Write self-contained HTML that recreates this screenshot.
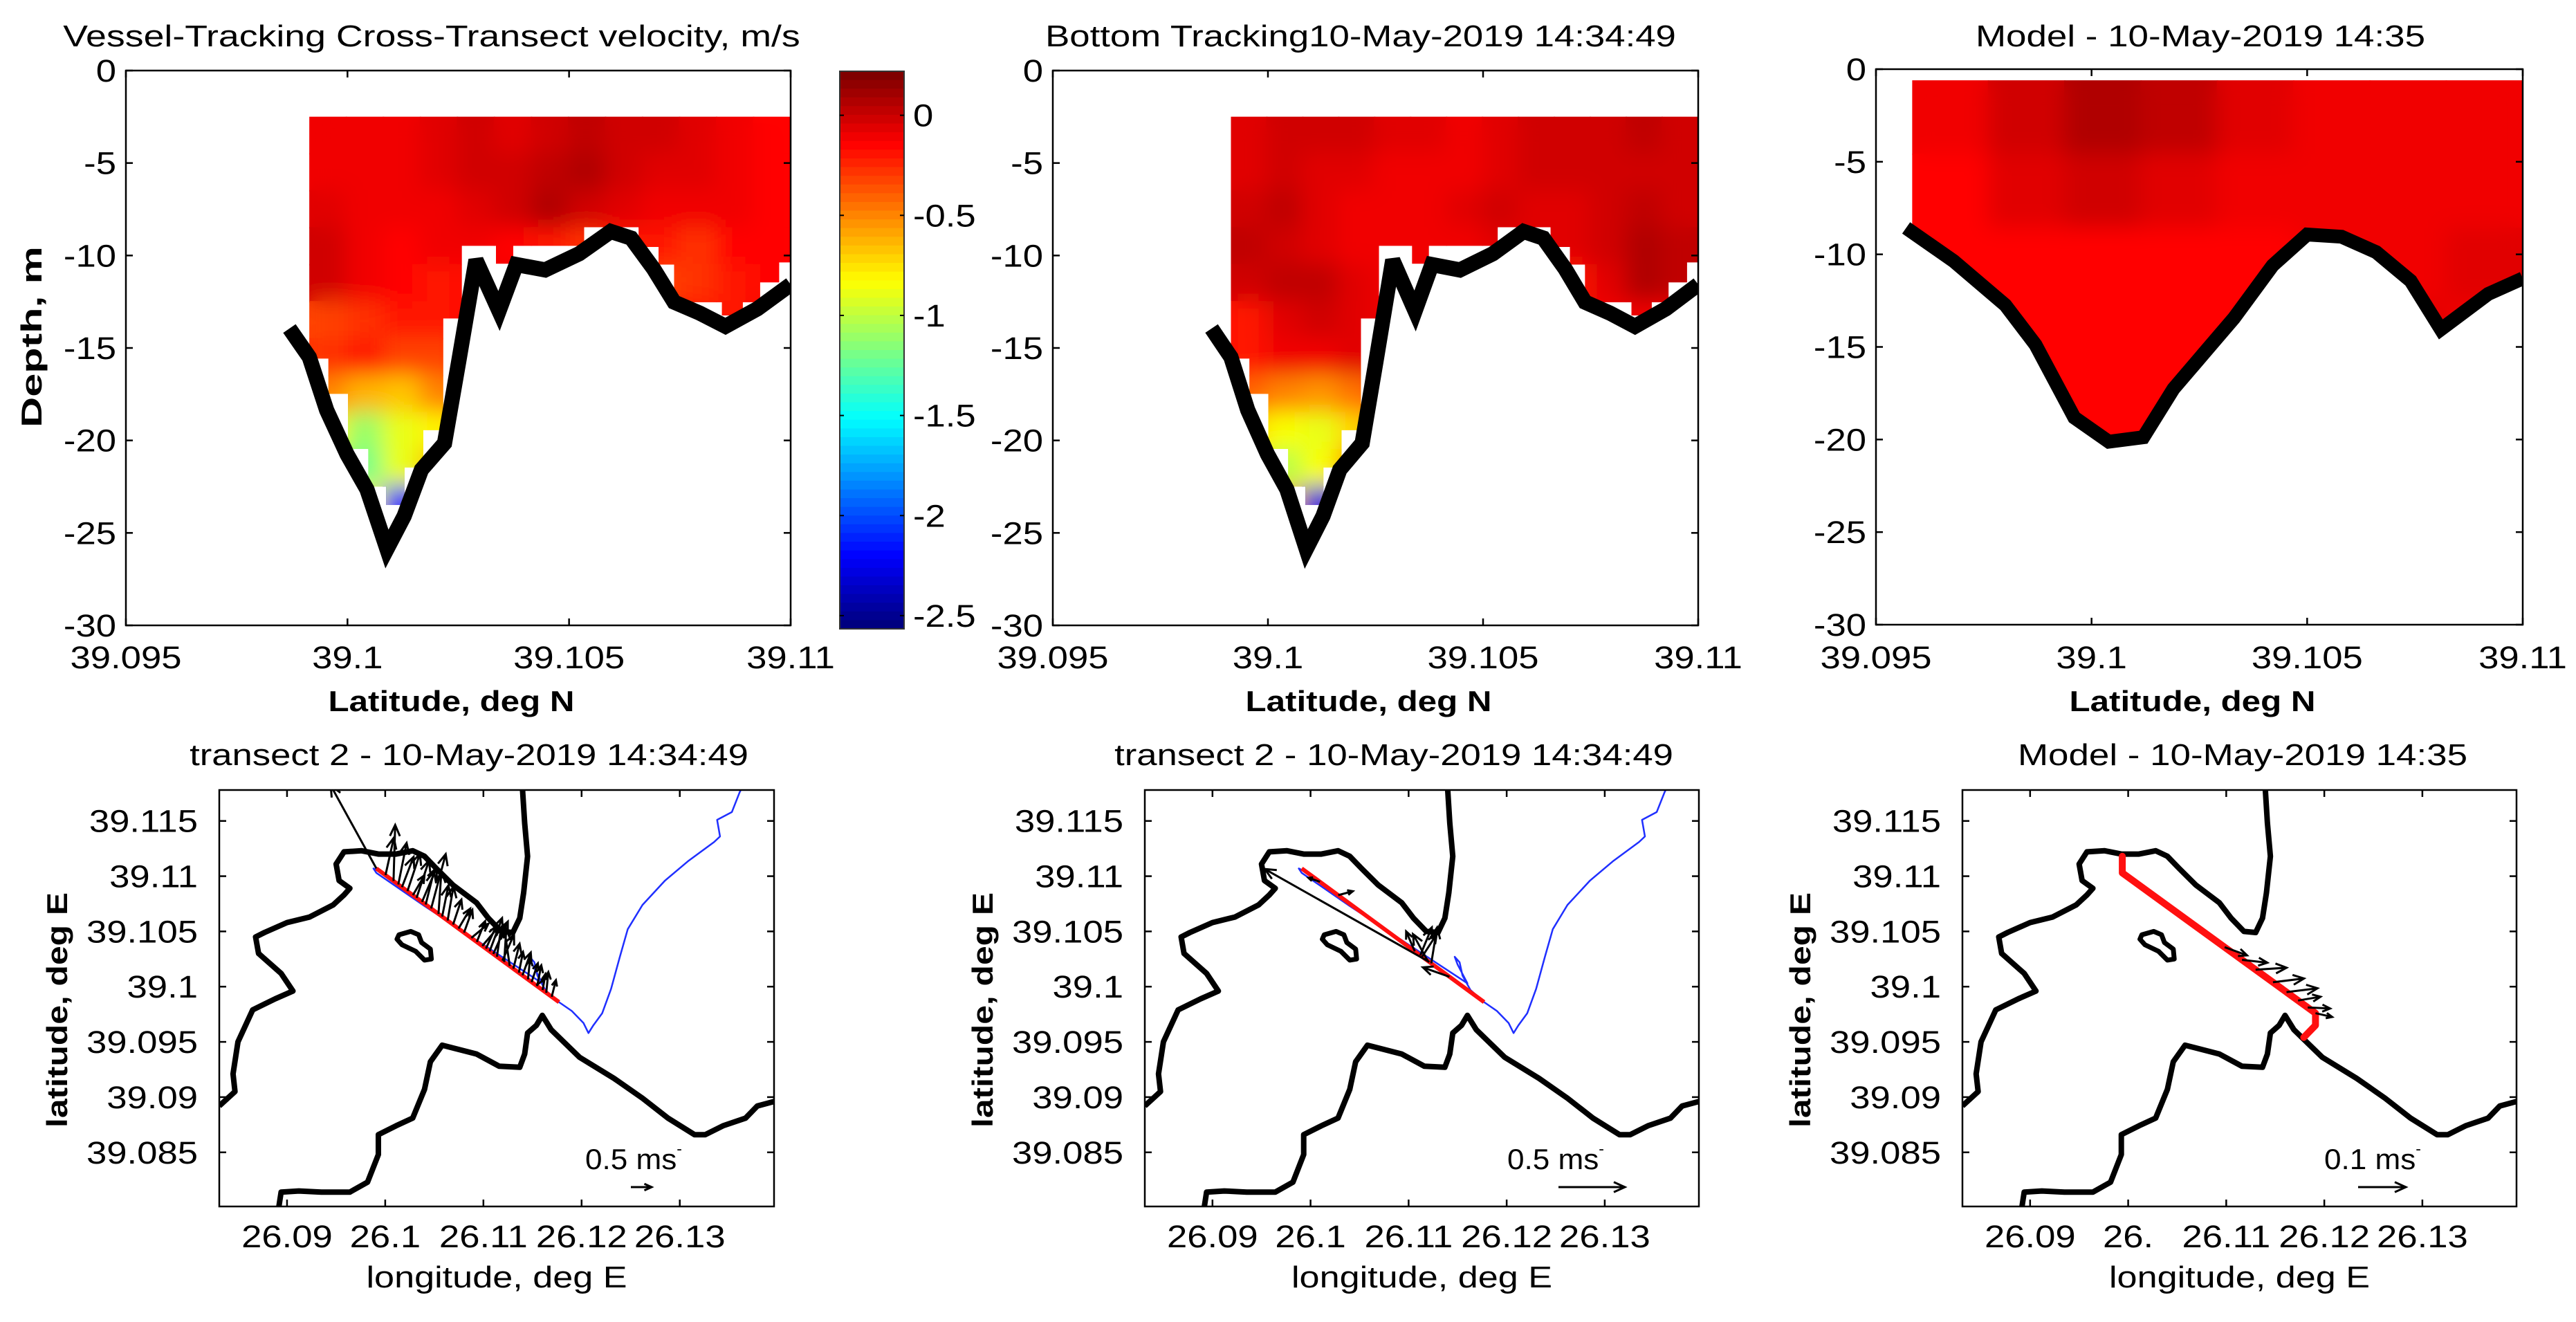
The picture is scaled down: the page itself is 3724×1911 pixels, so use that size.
<!DOCTYPE html>
<html><head><meta charset="utf-8"><title>Cross-transect velocity</title>
<style>
html,body{margin:0;padding:0;background:#fff;}
svg{display:block;font-family:"Liberation Sans",Arial,sans-serif;}
</style></head>
<body>
<svg id="fig" xmlns="http://www.w3.org/2000/svg" width="3724" height="1911" viewBox="0 0 3724 1911"></svg>
<script>
// ---------------- DATA ----------------
const CMIN = -2.566, CMAX = 0.22;
const cbarTicks = [0, -0.5, -1, -1.5, -2, -2.5];
const cbarTickLabels = ["0", "-0.5", "-1", "-1.5", "-2", "-2.5"];

const depthTicks = [0, -5, -10, -15, -20, -25, -30];
const depthTickLabels = ["0", "-5", "-10", "-15", "-20", "-25", "-30"];
const latTicks = [39.095, 39.1, 39.105, 39.11];
const latTickLabels = ["39.095", "39.1", "39.105", "39.11"];

const bathyLat = [39.09869,39.09914,39.09953,39.09999,39.10044,39.10089,39.10128,39.10167,39.10219,39.10251,39.10290,39.10342,39.10381,39.10446,39.10523,39.10594,39.10640,39.10691,39.10737,39.10795,39.10853,39.10925,39.11000];
const bathyDepth = [-13.95,-15.50,-18.36,-20.75,-22.65,-25.87,-24.09,-21.58,-20.15,-15.74,-10.25,-13.00,-10.49,-10.78,-9.90,-8.70,-9.06,-10.73,-12.52,-13.12,-13.83,-12.88,-11.57];

const covLat = [39.09914,39.1100,39.1100,39.10974,39.10974,39.10931,39.10931,39.10892,39.10892,39.10845,39.10845,39.10737,39.10737,39.10702,39.10702,39.10657,39.10657,39.10534,39.10534,39.10374,39.10374,39.10335,39.10335,39.10258,39.10258,39.10216,39.10216,39.10171,39.10171,39.10129,39.10129,39.10087,39.10087,39.10047,39.10047,39.10001,39.10001,39.09957,39.09957,39.09914];
const covDepth = [-2.5,-2.5,-10.37,-10.37,-11.45,-11.45,-12.52,-12.52,-13.24,-13.24,-12.52,-12.52,-10.49,-10.49,-9.54,-9.54,-8.47,-8.47,-9.47,-9.47,-10.44,-10.44,-9.47,-9.47,-13.40,-13.40,-19.44,-19.44,-21.46,-21.46,-23.49,-23.49,-22.49,-22.49,-20.46,-20.46,-17.48,-17.48,-15.57,-15.57];

const vtGridLat0 = 39.09914, vtGridLat1 = 39.1100, vtGridDepth0 = -2.5, vtGridDz = 2;
const vesselVel = [
 [-0.1,-0.1,-0.1,-0.05,0.0,-0.05,0.0,0.05,0.0,0.0,-0.05,-0.1,-0.15],
 [-0.1,-0.1,-0.1,-0.05,0.0,0.0,0.05,0.08,0.0,-0.05,-0.05,-0.1,-0.15],
 [-0.05,-0.1,-0.1,-0.1,-0.05,0.0,0.1,0.0,-0.05,-0.1,-0.1,-0.1,-0.15],
 [0.02,-0.1,-0.15,-0.1,-0.1,-0.15,-0.2,-0.25,-0.2,-0.2,-0.25,-0.15,-0.15],
 [0.0,-0.1,-0.15,-0.2,-0.15,-0.1,-0.1,-0.1,-0.2,-0.3,-0.25,-0.2,-0.15],
 [-0.3,-0.25,-0.2,-0.2,-0.15,-0.1,-0.1,-0.1,-0.1,-0.1,-0.2,-0.2,-0.1],
 [-0.25,-0.2,-0.3,-0.3,-0.2,-0.1,-0.1,-0.1,-0.1,-0.1,-0.1,-0.1,-0.1],
 [-0.5,-0.6,-0.65,-0.5,-0.4,-0.1,-0.1,-0.1,-0.1,-0.1,-0.1,-0.1,-0.1],
 [-0.8,-1.1,-0.9,-0.8,-0.6,-0.1,-0.1,-0.1,-0.1,-0.1,-0.1,-0.1,-0.1],
 [-1.0,-1.2,-0.9,-0.6,-0.5,-0.1,-0.1,-0.1,-0.1,-0.1,-0.1,-0.1,-0.1],
 [-1.4,-0.8,-2.2,-0.6,-0.5,-0.1,-0.1,-0.1,-0.1,-0.1,-0.1,-0.1,-0.1]
];
const bottomVel = [
 [-0.05,0.0,0.0,0.0,-0.05,-0.05,-0.1,-0.05,0.0,0.0,0.0,0.05,0.0],
 [-0.05,0.0,-0.05,-0.05,-0.1,-0.1,-0.1,-0.05,0.0,0.0,0.0,0.0,0.0],
 [0.0,0.05,-0.05,-0.1,-0.1,-0.1,-0.05,0.0,-0.05,-0.05,0.0,0.05,0.0],
 [0.05,0.0,-0.05,-0.1,-0.1,-0.1,-0.1,-0.05,-0.05,-0.05,0.0,0.1,0.05],
 [0.0,0.05,0.05,-0.05,-0.1,-0.1,-0.1,-0.1,-0.1,-0.2,-0.05,0.1,0.05],
 [-0.2,-0.05,0.0,-0.05,-0.1,-0.1,-0.1,-0.1,-0.1,-0.1,-0.1,-0.1,-0.1],
 [-0.2,-0.1,-0.1,-0.05,-0.1,-0.1,-0.1,-0.1,-0.1,-0.1,-0.1,-0.1,-0.1],
 [-0.4,-0.5,-0.55,-0.45,-0.2,-0.1,-0.1,-0.1,-0.1,-0.1,-0.1,-0.1,-0.1],
 [-0.7,-0.85,-0.9,-0.7,-0.4,-0.1,-0.1,-0.1,-0.1,-0.1,-0.1,-0.1,-0.1],
 [-0.8,-1.0,-0.85,-0.5,-0.4,-0.1,-0.1,-0.1,-0.1,-0.1,-0.1,-0.1,-0.1],
 [-1.0,-0.6,-2.3,-0.5,-0.4,-0.1,-0.1,-0.1,-0.1,-0.1,-0.1,-0.1,-0.1]
];

const modelBathyLat = [39.0957,39.0968,39.0980,39.0987,39.0996,39.1004,39.1012,39.1019,39.1033,39.1042,39.1050,39.1058,39.1066,39.1074,39.1081,39.1092,39.1100];
const modelBathyDepth = [-8.57,-10.36,-12.74,-14.88,-18.81,-20.12,-19.88,-17.26,-13.45,-10.6,-8.93,-9.05,-9.88,-11.43,-14.05,-12.14,-11.3];
const modelTopDepth = -0.6, modelLat0 = 39.09584, modelLat1 = 39.1100, modelDz = 4;
const modelVel = [
 [-0.1,0.0,0.1,0.05,-0.05,-0.1,-0.1,-0.1],
 [-0.12,-0.05,0.0,-0.05,-0.1,-0.1,-0.1,-0.1],
 [-0.12,-0.12,-0.15,-0.12,-0.12,-0.1,-0.1,-0.05],
 [-0.12,-0.15,-0.15,-0.12,-0.12,-0.12,-0.05,-0.08],
 [-0.12,-0.12,-0.12,-0.12,-0.12,-0.12,-0.12,-0.12]
];

const lonTicks = [26.09, 26.10, 26.11, 26.12, 26.13];
const lonTickLabels = ["26.09", "26.1", "26.11", "26.12", "26.13"];
const lonTickLabelsModel = ["26.09", "26.", "26.11", "26.12", "26.13"];
const mapLatTicks = [39.085, 39.09, 39.095, 39.1, 39.105, 39.11, 39.115];
const mapLatTickLabels = ["39.085", "39.09", "39.095", "39.1", "39.105", "39.11", "39.115"];

const coastALon = [26.0831,26.0847,26.0845,26.0850,26.0865,26.0888,26.0906,26.0894,26.0871,26.0868,26.0877,26.0900,26.0923,26.0947,26.0958,26.0964,26.0953,26.0950,26.0958,26.0976,26.0993,26.1011,26.1028,26.1040,26.1052,26.1069,26.1093,26.1105,26.1118,26.1130,26.1137,26.1141,26.1145,26.1142,26.1139];
const coastALat = [39.0892,39.0905,39.0921,39.0950,39.0979,39.0989,39.0996,39.1012,39.1030,39.1045,39.1049,39.1058,39.1063,39.1074,39.1083,39.1089,39.1096,39.1111,39.1122,39.1123,39.1120,39.1120,39.1123,39.1118,39.1107,39.1092,39.1076,39.1062,39.1050,39.1049,39.1062,39.1085,39.1118,39.1148,39.1190];
const coastBLon = [26.0891,26.0894,26.0912,26.0935,26.0964,26.0982,26.0993,26.0993,26.1011,26.1028,26.1040,26.1046,26.1058,26.1093,26.1116,26.1137,26.1142,26.1145,26.1154,26.1160,26.1169,26.1198,26.1233,26.1262,26.1288,26.1315,26.1326,26.1344,26.1367,26.1379,26.1400];
const coastBLat = [39.0797,39.0814,39.0815,39.0814,39.0814,39.0823,39.0848,39.0866,39.0874,39.0881,39.0907,39.0932,39.0947,39.0939,39.0928,39.0927,39.0939,39.0958,39.0965,39.0974,39.0961,39.0936,39.0917,39.0899,39.0881,39.0866,39.0866,39.0874,39.0881,39.0892,39.0897];
const islandLon = [26.1014,26.1026,26.1034,26.1037,26.1046,26.1047,26.1040,26.1031,26.1017,26.1012];
const islandLat = [39.1047,39.1050,39.1047,39.1040,39.1034,39.1025,39.1024,39.1032,39.1038,39.1043];
const trackLon = [26.1367,26.1361,26.1353,26.1338,26.1341,26.1335,26.1309,26.1285,26.1262,26.1247,26.1239,26.1230,26.1221,26.1212,26.1207,26.1202,26.1190,26.1177,26.1163,26.1155,26.1152,26.1147,26.1150,26.1160,26.1100,26.1040,26.0991,26.0988,26.0995];
const trackLat = [39.1187,39.1176,39.1158,39.1151,39.1136,39.1131,39.1114,39.1096,39.1074,39.1052,39.1027,39.0998,39.0976,39.0965,39.0958,39.0967,39.0978,39.0986,39.0997,39.1010,39.1022,39.1027,39.1020,39.1003,39.1038,39.1073,39.1103,39.1107,39.1104];
const transectLon = [26.0991, 26.1177];
const transectLat = [39.1107, 39.0986];
const modelTransectLon = [26.0994, 26.0994, 26.1191, 26.1191, 26.1179];
const modelTransectLat = [39.1118, 39.1103, 39.0976, 39.0965, 39.0954];

const vtArrowT = [0,0.05,0.094,0.12,0.14,0.17,0.2,0.22,0.25,0.27,0.3,0.34,0.36,0.39,0.42,0.45,0.48,0.52,0.55,0.58,0.6,0.62,0.64,0.66,0.69,0.7,0.73,0.75,0.78,0.8,0.83,0.85,0.875,0.88,0.91,0.93,0.96];
const vtArrowU = [-1.1,0.2,0.04,0.2,0.28,0.3,0.28,0.3,0.35,0.2,0.35,0.07,0.15,0.14,0.2,0.28,0.2,0.41,0.2,0.41,0.25,0.3,0.35,0.1,0.28,0.05,-0.14,0.15,0.1,0.2,0.05,0.15,0.21,0.1,0.07,0.05,0.1];
const vtArrowV = [2.0,0.9,1.35,1.0,0.73,0.9,0.48,0.9,0.82,0.8,1.31,1.02,0.75,0.82,0.6,0.48,0.55,0.34,0.5,0.48,0.55,0.8,0.78,0.7,0.63,0.8,0.97,0.6,0.5,0.55,0.5,0.45,0.15,0.5,0.39,0.5,0.4];
const btArrowT = [0.1,0.2,0.62,0.65,0.66,0.69,0.7,0.71,0.81];
const btArrowU = [-0.087,0.11,-0.065,0.087,0.11,-0.11,-1.24,0.044,-0.2];
const btArrowV = [0.03,0.03,0.15,0.21,0.17,0.2,0.70,0.27,0.07];
const mdArrowT = [0.53,0.62,0.69,0.78,0.85,0.91,0.96,1.0];
const mdArrowU = [0.047,0.053,0.065,0.065,0.065,0.047,0.047,0.035];
const mdArrowV = [-0.017,-0.006,0.004,0.008,0.008,0.008,-0.002,-0.008];
const refSpeed = [0.5, 0.5, 0.1];
const refLabels = ["0.5 ms", "0.5 ms", "0.1 ms"];

// ---------------- RENDER ----------------
const NS = "http://www.w3.org/2000/svg";
const svg = document.getElementById("fig");
function el(tag, attrs, parent) {
  const e = document.createElementNS(NS, tag);
  for (const k in attrs) e.setAttribute(k, attrs[k]);
  (parent || svg).appendChild(e);
  return e;
}
function txt(x, y, s, size, anchor, parent, opts) {
  opts = opts || {};
  const t = el("text", {transform: "translate(" + x + "," + y + ")" + (opts.rot ? " rotate(" + opts.rot + ")" : "") + " scale(" + (opts.sx || 1.17) + ",1)",
    "font-size": size, "text-anchor": anchor, fill: "#000", "font-weight": opts.bold ? "bold" : "normal"}, parent);
  t.textContent = s;
  if (opts.width) {
    const len = t.getComputedTextLength();
    if (len > 0) t.setAttribute("transform", "translate(" + x + "," + y + ")" + (opts.rot ? " rotate(" + opts.rot + ")" : "") + " scale(" + (opts.width / len).toFixed(3) + ",1)");
  }
  return t;
}
function clamp(v) { return Math.max(0, Math.min(1, v)); }
function jet(v) {
  let f = (v - CMIN) / (CMAX - CMIN);
  f = Math.round(clamp(f) * 63) / 63;
  const r = clamp(1.5 - Math.abs(4 * f - 3)), g = clamp(1.5 - Math.abs(4 * f - 2)), b = clamp(1.5 - Math.abs(4 * f - 1));
  return "rgb(" + Math.round(r * 255) + "," + Math.round(g * 255) + "," + Math.round(b * 255) + ")";
}

const defs = el("defs", {});
const blur = el("filter", {id: "blur", x: "-10%", y: "-10%", width: "120%", height: "120%"}, defs);
el("feGaussianBlur", {stdDeviation: "16"}, blur);
let clipN = 0;
function clipRect(x, y, w, h) {
  const id = "c" + (clipN++);
  const cp = el("clipPath", {id: id}, defs);
  el("rect", {x: x, y: y, width: w, height: h}, cp);
  return id;
}
function clipPoly(pts) {
  const id = "c" + (clipN++);
  const cp = el("clipPath", {id: id}, defs);
  el("polygon", {points: pts.map(p => p[0].toFixed(1) + "," + p[1].toFixed(1)).join(" ")}, cp);
  return id;
}

const sections = [
  {x0: 182, x1: 1143, y0: 102, y1: 904, title: "Vessel-Tracking Cross-Transect velocity, m/s", tx: 624, tw: 1066, name: "vessel-tracking-section", grid: vesselVel, model: false},
  {x0: 1522, x1: 2455, y0: 102, y1: 904, title: "Bottom Tracking10-May-2019 14:34:49", tx: 1967, tw: 912, name: "bottom-tracking-section", grid: bottomVel, model: false},
  {x0: 2712, x1: 3647, y0: 100, y1: 903, title: "Model - 10-May-2019 14:35", tx: 3181, tw: 650, name: "model-section", grid: modelVel, model: true}
];

sections.forEach((P, pi) => {
  const g = el("g", {});
  
  
  const X = lat => P.x0 + (lat - 39.095) / 0.015 * (P.x1 - P.x0);
  const Y = d => P.y0 + (0 - d) / 30 * (P.y1 - P.y0);

  let poly, lat0, lat1, d0, dz;
  if (!P.model) {
    poly = covLat.map((la, i) => [X(la), Y(covDepth[i])]);
    lat0 = vtGridLat0; lat1 = vtGridLat1; d0 = vtGridDepth0; dz = vtGridDz;
  } else {
    poly = [[X(modelLat0), Y(modelTopDepth)], [X(modelLat1), Y(modelTopDepth)]];
    for (let i = modelBathyLat.length - 1; i >= 0; i--) poly.push([X(modelBathyLat[i]), Y(modelBathyDepth[i])]);
    poly.push([X(modelLat0), Y(modelBathyDepth[0])]);
    lat0 = modelLat0; lat1 = modelLat1; d0 = modelTopDepth; dz = modelDz;
  }
  const cid = clipPoly(poly);
  const field = el("g", {"clip-path": "url(#" + cid + ")"}, g);
  
  
  const grid = P.grid, nc = grid[0].length, dlat = (lat1 - lat0) / nc;
  const layers = [el("g", {}, field), el("g", {filter: "url(#blur)"}, field)];
  layers.forEach(L => {
    grid.forEach((row, r) => row.forEach((v, c) => {
      const xa = X(lat0 + c * dlat), xb = X(lat0 + (c + 1) * dlat);
      const ya = Y(d0 - r * dz), yb = Y(d0 - (r + 1) * dz);
      const rc = el("rect", {x: xa - 1, y: ya - 1, width: xb - xa + 2, height: yb - ya + 2, fill: jet(v)}, L);
      
      
    }));
  });

  const bl = P.model ? modelBathyLat : bathyLat, bd = P.model ? modelBathyDepth : bathyDepth;
  const bclip = clipRect(P.x0, P.y0 - 20, P.x1 - P.x0, P.y1 - P.y0 + 40);
  const bp = el("polyline", {points: bl.map((la, i) => X(la).toFixed(1) + "," + Y(bd[i]).toFixed(1)).join(" "),
    fill: "none", stroke: "#000", "stroke-width": P.model ? 20 : 22, "stroke-linejoin": "miter", "stroke-miterlimit": 3, "clip-path": "url(#" + bclip + ")"}, g);
  
  

  const box = el("rect", {x: P.x0, y: P.y0, width: P.x1 - P.x0, height: P.y1 - P.y0, fill: "none", stroke: "#000", "stroke-width": 2.5}, g);
  
  
  depthTicks.forEach((d, i) => {
    const y = Y(d);
    el("line", {x1: P.x0, x2: P.x0 + 10, y1: y, y2: y, stroke: "#000", "stroke-width": 2.5}, g);
    el("line", {x1: P.x1, x2: P.x1 - 10, y1: y, y2: y, stroke: "#000", "stroke-width": 2.5}, g);
    const t = txt(P.x0 - 14, y + 16, depthTickLabels[i], 45, "end", g);
    
    
  });
  latTicks.forEach((la, i) => {
    const x = X(la);
    el("line", {x1: x, x2: x, y1: P.y1, y2: P.y1 - 10, stroke: "#000", "stroke-width": 2.5}, g);
    el("line", {x1: x, x2: x, y1: P.y0, y2: P.y0 + 10, stroke: "#000", "stroke-width": 2.5}, g);
    const t = txt(x, 966, latTickLabels[i], 45, "middle", g);
    
    
  });
  const tt = txt(P.tx, 67, P.title, 44, "middle", g, {width: P.tw});
  
  
  const xl = txt((P.x0 + P.x1) / 2 - 10, 1028, "Latitude, deg N", 42, "middle", g, {bold: true, width: 356});
  
  
  if (pi === 0) {
    const yl = txt(60, 487, "Depth, m", 42, "middle", g, {bold: true, rot: -90, width: 262});
    
    
  }
});

(function () {
  const g = el("g", {});
  
  
  const cx0 = 1214, cx1 = 1307, cy0 = 103, cy1 = 909;
  const CY = v => cy0 + (CMAX - v) / (CMAX - CMIN) * (cy1 - cy0);
  for (let k = 0; k < 64; k++) {
    const v = CMAX - (k + 0.5) / 64 * (CMAX - CMIN);
    el("rect", {x: cx0, y: cy0 + k * (cy1 - cy0) / 64, width: cx1 - cx0, height: (cy1 - cy0) / 64 + 0.8, fill: jet(v)}, g);
  }
  el("rect", {x: cx0, y: cy0, width: cx1 - cx0, height: cy1 - cy0, fill: "none", stroke: "#333", "stroke-width": 2}, g);
  cbarTicks.forEach((v, i) => {
    const y = CY(v);
    el("line", {x1: cx0, x2: cx0 + 6, y1: y, y2: y, stroke: "#000", "stroke-width": 2}, g);
    el("line", {x1: cx1, x2: cx1 - 6, y1: y, y2: y, stroke: "#000", "stroke-width": 2}, g);
    const t = txt(1320, y + 16, cbarTickLabels[i], 45, "start", g);
    
    
  });
})();

const maps = [
  {x0: 317, x1: 1119, title: "transect 2 - 10-May-2019 14:34:49", tx: 678, tw: 808, name: "vessel-tracking-map", at: vtArrowT, au: vtArrowU, av: vtArrowV, S: 60, model: false, lonLabels: lonTickLabels, ref: 0, lblDx: 529, arDx: 595},
  {x0: 1655, x1: 2456, title: "transect 2 - 10-May-2019 14:34:49", tx: 2015, tw: 808, name: "bottom-tracking-map", at: btArrowT, au: btArrowU, av: btArrowV, S: 192, model: false, lonLabels: lonTickLabels, ref: 1, lblDx: 524, arDx: 598},
  {x0: 2837, x1: 3638, title: "Model - 10-May-2019 14:35", tx: 3242, tw: 650, name: "model-map", at: mdArrowT, au: mdArrowU, av: mdArrowV, S: 690, model: true, lonLabels: lonTickLabelsModel, ref: 2, lblDx: 523, arDx: 572}
];
const MY0 = 1142, MY1 = 1744, LON0 = 26.0831, LON1 = 26.1396, LATT = 39.1178, LATB = 39.0801;

function arrow(parent, x, y, dx, dy, w) {
  const L = Math.hypot(dx, dy);
  if (L < 0.5) return;
  const ux = dx / L, uy = dy / L, h = Math.min(16, L * 0.35);
  const xe = x + dx, ye = y + dy;
  const d = "M" + x.toFixed(1) + "," + y.toFixed(1) + " L" + xe.toFixed(1) + "," + ye.toFixed(1) +
    " M" + (xe - h * ux + h * 0.45 * uy).toFixed(1) + "," + (ye - h * uy - h * 0.45 * ux).toFixed(1) + " L" + xe.toFixed(1) + "," + ye.toFixed(1) +
    " L" + (xe - h * ux - h * 0.45 * uy).toFixed(1) + "," + (ye - h * uy + h * 0.45 * ux).toFixed(1);
  const p = el("path", {d: d, fill: "none", stroke: "#000", "stroke-width": w || 3}, parent);
  
  
}

maps.forEach(M => {
  const g = el("g", {});
  
  
  const X = lon => M.x0 + (lon - LON0) / (LON1 - LON0) * (M.x1 - M.x0);
  const Y = lat => MY0 + (LATT - lat) / (LATT - LATB) * (MY1 - MY0);
  const cid = clipRect(M.x0, MY0, M.x1 - M.x0, MY1 - MY0);
  const inner = el("g", {"clip-path": "url(#" + cid + ")"}, g);
  const line = (lons, lats, attrs, name, closed) => {
    const p = el(closed ? "polygon" : "polyline", Object.assign({points: lons.map((lo, i) => X(lo).toFixed(1) + "," + Y(lats[i]).toFixed(1)).join(" "), fill: "none"}, attrs), inner);
    
    
    return p;
  };
  line(coastALon, coastALat, {stroke: "#000", "stroke-width": 8, "stroke-linejoin": "round"}, "coastline-north");
  line(coastBLon, coastBLat, {stroke: "#000", "stroke-width": 8, "stroke-linejoin": "round"}, "coastline-south");
  line(islandLon, islandLat, {stroke: "#000", "stroke-width": 7, "stroke-linejoin": "round"}, "island", true);
  if (!M.model) {
    line(trackLon, trackLat, {stroke: "#1f2fff", "stroke-width": 2.5, "stroke-linejoin": "round"}, "boat-track");
    line(transectLon, transectLat, {stroke: "#ff1010", "stroke-width": 6}, "transect-line");
    const bx0 = X(transectLon[0]), by0 = Y(transectLat[0]), bx1 = X(transectLon[1]), by1 = Y(transectLat[1]);
    M.at.forEach((t, i) => arrow(inner, bx0 + t * (bx1 - bx0), by0 + t * (by1 - by0), M.au[i] * M.S, -M.av[i] * M.S, 3));
  } else {
    line(modelTransectLon, modelTransectLat, {stroke: "#ff1010", "stroke-width": 10, "stroke-linejoin": "round", "stroke-linecap": "round"}, "model-transect-line");
    const bx0 = X(modelTransectLon[1]), by0 = Y(modelTransectLat[1]), bx1 = X(modelTransectLon[2]), by1 = Y(modelTransectLat[2]);
    M.at.forEach((t, i) => arrow(inner, bx0 + t * (bx1 - bx0), by0 + t * (by1 - by0), M.au[i] * M.S, -M.av[i] * M.S, 3));
  }
  const rl = txt(M.x0 + M.lblDx, 1690, "", 42, "start", g, {sx: 1.05});
  rl.textContent = refLabels[M.ref];
  const sup = el("tspan", {dy: -22, "font-size": 22}, rl);
  sup.textContent = "-";
  
  
  arrow(g, M.x0 + M.arDx, 1716, refSpeed[M.ref] * M.S, 0, 3);

  const box = el("rect", {x: M.x0, y: MY0, width: M.x1 - M.x0, height: MY1 - MY0, fill: "none", stroke: "#000", "stroke-width": 2.5}, g);
  
  
  mapLatTicks.forEach((la, i) => {
    const y = Y(la);
    el("line", {x1: M.x0, x2: M.x0 + 10, y1: y, y2: y, stroke: "#000", "stroke-width": 2.5}, g);
    el("line", {x1: M.x1, x2: M.x1 - 10, y1: y, y2: y, stroke: "#000", "stroke-width": 2.5}, g);
    const t = txt(M.x0 - 31, y + 16, mapLatTickLabels[i], 45, "end", g);
    
    
  });
  lonTicks.forEach((lo, i) => {
    const x = X(lo);
    el("line", {x1: x, x2: x, y1: MY1, y2: MY1 - 10, stroke: "#000", "stroke-width": 2.5}, g);
    el("line", {x1: x, x2: x, y1: MY0, y2: MY0 + 10, stroke: "#000", "stroke-width": 2.5}, g);
    const t = txt(x, 1803, M.lonLabels[i], 45, "middle", g);
    
    
  });
  const tt = txt(M.tx, 1106, M.title, 44, "middle", g, {width: M.tw});
  
  
  const xl = txt((M.x0 + M.x1) / 2, 1861, "longitude, deg E", 44, "middle", g, {width: 377});
  
  
  const yl = txt(M.x0 - 220, 1460, "latitude, deg E", 42, "middle", g, {bold: true, rot: -90, width: 340});
  
  
});
</script>
</body></html>
